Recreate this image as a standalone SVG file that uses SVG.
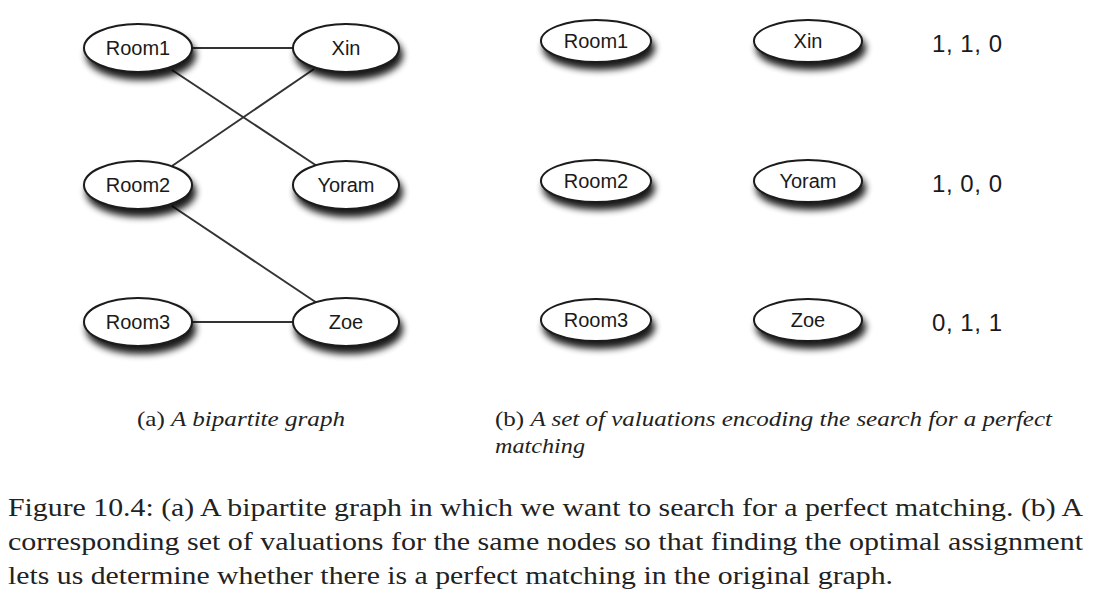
<svg xmlns="http://www.w3.org/2000/svg" width="1106" height="594" viewBox="0 0 1106 594">
<defs>
<filter id="sh" x="-30%" y="-40%" width="160%" height="190%">
<feGaussianBlur in="SourceAlpha" stdDeviation="3.5"/>
<feOffset dx="3" dy="7" result="b"/>
<feComponentTransfer><feFuncA type="linear" slope="0.9"/></feComponentTransfer>
<feMerge><feMergeNode/><feMergeNode in="SourceGraphic"/></feMerge>
</filter>
</defs>
<style>
.n ellipse{fill:#fff;stroke:#1a1a1a;stroke-width:2}
.n text{font-family:"Liberation Sans",Arial,sans-serif;font-size:20px;fill:#1a1a1a;text-anchor:middle}
.e line{stroke:#333;stroke-width:2}
.v{font-family:"Liberation Sans",Arial,sans-serif;font-size:24px;fill:#1a1a1a}
.cap{font-family:"Liberation Serif","Times New Roman",serif;font-size:21px;fill:#222}
.it{font-style:italic}
.fig{font-family:"Liberation Serif","Times New Roman",serif;font-size:25px;fill:#222}
</style>
<rect width="1106" height="594" fill="#fff"/>
<g id="connectors" class="e">
<line x1="192" y1="48" x2="294" y2="48"/>
<line x1="172" y1="70" x2="317" y2="166"/>
<line x1="314" y1="69" x2="172" y2="166"/>
<line x1="172" y1="206" x2="317" y2="303"/>
<line x1="192" y1="322" x2="294" y2="322"/>
</g>
<g id="a_room1" class="n"><ellipse cx="138" cy="48" rx="54" ry="24" filter="url(#sh)"/><text x="138" y="55">Room1</text></g>
<g id="a_xin" class="n"><ellipse cx="346" cy="48" rx="53" ry="24" filter="url(#sh)"/><text x="346" y="55">Xin</text></g>
<g id="a_room2" class="n"><ellipse cx="138" cy="185" rx="54" ry="24" filter="url(#sh)"/><text x="138" y="192">Room2</text></g>
<g id="a_yoram" class="n"><ellipse cx="346" cy="185" rx="53" ry="24" filter="url(#sh)"/><text x="346" y="192">Yoram</text></g>
<g id="a_room3" class="n"><ellipse cx="138" cy="322" rx="54" ry="24" filter="url(#sh)"/><text x="138" y="329">Room3</text></g>
<g id="a_zoe" class="n"><ellipse cx="346" cy="322" rx="53" ry="24" filter="url(#sh)"/><text x="346" y="329">Zoe</text></g>

<g id="b_room1" class="n"><ellipse cx="596" cy="41" rx="55" ry="21" filter="url(#sh)"/><text x="596" y="48">Room1</text></g>
<g id="b_xin" class="n"><ellipse cx="808" cy="41" rx="54" ry="21" filter="url(#sh)"/><text x="808" y="48">Xin</text></g>
<g id="b_room2" class="n"><ellipse cx="596" cy="181" rx="55" ry="21" filter="url(#sh)"/><text x="596" y="188">Room2</text></g>
<g id="b_yoram" class="n"><ellipse cx="808" cy="181" rx="54" ry="21" filter="url(#sh)"/><text x="808" y="188">Yoram</text></g>
<g id="b_room3" class="n"><ellipse cx="596" cy="320" rx="55" ry="21" filter="url(#sh)"/><text x="596" y="327">Room3</text></g>
<g id="b_zoe" class="n"><ellipse cx="808" cy="320" rx="54" ry="21" filter="url(#sh)"/><text x="808" y="327">Zoe</text></g>

<text class="v" x="932" y="52" textLength="70">1, 1, 0</text>
<text class="v" x="932" y="192" textLength="70">1, 0, 0</text>
<text class="v" x="932" y="331" textLength="70">0, 1, 1</text>

<text class="cap" x="137" y="426" textLength="208" lengthAdjust="spacingAndGlyphs">(a) <tspan class="it">A bipartite graph</tspan></text>
<text class="cap" x="495" y="426" textLength="557" lengthAdjust="spacingAndGlyphs">(b) <tspan class="it">A set of valuations encoding the search for a perfect</tspan></text>
<text class="cap it" x="495" y="453" textLength="90" lengthAdjust="spacingAndGlyphs">matching</text>

<text class="fig" x="8" y="516" textLength="1075" lengthAdjust="spacingAndGlyphs">Figure 10.4: (a) A bipartite graph in which we want to search for a perfect matching. (b) A</text>
<text class="fig" x="8" y="550" textLength="1075" lengthAdjust="spacingAndGlyphs">corresponding set of valuations for the same nodes so that finding the optimal assignment</text>
<text class="fig" x="8" y="584" textLength="885" lengthAdjust="spacingAndGlyphs">lets us determine whether there is a perfect matching in the original graph.</text>
</svg>
